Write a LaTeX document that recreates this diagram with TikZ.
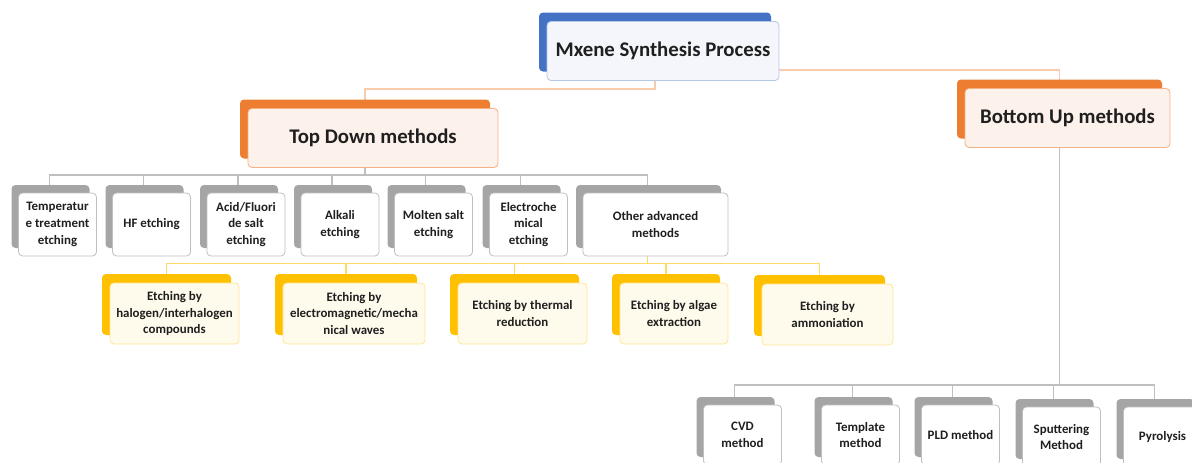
\documentclass[tikz,border=0pt]{standalone}
\usepackage{fontspec}
\setmainfont{Carlito}
\usetikzlibrary{shadows,backgrounds}

\definecolor{rootblue}{HTML}{4472C4}
\definecolor{rootfill}{HTML}{F4F6FB}
\definecolor{rootline}{HTML}{B4C7E7}
\definecolor{orshade}{HTML}{ED7D31}
\definecolor{orfill}{HTML}{FDF1EB}
\definecolor{orline}{HTML}{F4B183}
\definecolor{orlink}{HTML}{F8CBAD}
\definecolor{grshade}{HTML}{A5A5A5}
\definecolor{grline}{HTML}{BFBFBF}
\definecolor{yeshade}{HTML}{FFC000}
\definecolor{yefill}{HTML}{FFFBEC}
\definecolor{yeline}{HTML}{FFE699}
\definecolor{yelink}{HTML}{FFD966}

\tikzset{
  box/.style={draw, rounded corners=4pt, align=center, inner sep=2pt,
    line width=0.8pt, text=black!88,
    font=\bfseries\fontsize{12.9}{16.8}\selectfont},
  bigbox/.style={box, minimum height=59pt,
    font=\bfseries\fontsize{20.8}{24}\selectfont},
  rootbox/.style={bigbox, fill=rootfill, draw=rootline,
    general shadow={fill=rootblue, shadow xshift=-8pt, shadow yshift=9pt}},
  methodbox/.style={bigbox, fill=orfill, draw=orline,
    general shadow={fill=orshade, shadow xshift=-8pt, shadow yshift=9pt}},
  etchbox/.style={box, minimum width=78pt, minimum height=63pt, fill=white, draw=grline,
    general shadow={fill=grshade, shadow xshift=-7pt, shadow yshift=8pt}},
  extrabox/.style={box, minimum height=61pt, fill=yefill, draw=yeline,
    general shadow={fill=yeshade, shadow xshift=-8pt, shadow yshift=9pt}},
  link/.style={line width=1.2pt}
}

\begin{document}
\begin{tikzpicture}[x=1pt, y=-1pt]
  \useasboundingbox (0,0) rectangle (1192,463);

  % Main levels
  \node[rootbox, minimum width=232pt] (root) at (663,51) {Mxene Synthesis Process};
  \node[methodbox, minimum width=250pt] (topdown) at (373,138) {Top Down methods};
  \node[methodbox, minimum width=205pt] (bottomup) at (1067.5,118) {Bottom Up methods};

  % Top down methods
  \node[etchbox] (temp) at (57.5,224.5) {Temperatur\\e treatment\\etching};
  \node[etchbox] (hf) at (151.5,224.5) {HF etching};
  \node[etchbox] (acid) at (246,224.5) {Acid/Fluori\\de salt\\etching};
  \node[etchbox] (alkali) at (340,224.5) {Alkali\\etching};
  \node[etchbox] (molten) at (433.5,224.5) {Molten salt\\etching};
  \node[etchbox] (electro) at (528.5,224.5) {Electroche\\mical\\etching};
  \node[etchbox, minimum width=145pt] (other) at (655.5,224.5) {Other advanced\\methods};

  % Other advanced methods
  \node[extrabox, minimum width=129pt] (halogen) at (174.5,313.5) {Etching by\\halogen/interhalogen\\compounds};
  \node[extrabox, minimum width=142pt] (wave) at (354,313.5) {Etching by\\electromagnetic/mecha\\nical waves};
  \node[extrabox, minimum width=129pt] (thermal) at (522.5,313.5) {Etching by thermal\\reduction};
  \node[extrabox, minimum width=108pt] (algae) at (674,313.5) {Etching by algae\\extraction};
  \node[extrabox, minimum width=131pt] (ammonia) at (827.5,314.5) {Etching by\\ammoniation};

  % Bottom up methods
  \node[etchbox, minimum height=60pt] (cvd) at (742.5,435) {CVD\\method};
  \node[etchbox, minimum height=60pt] (template) at (860.5,435) {Template\\method};
  \node[etchbox, minimum height=60pt] (pld) at (960.5,435) {PLD method};
  \node[etchbox, minimum height=60pt] (sputter) at (1061.5,437) {Sputtering\\Method};
  \node[etchbox, minimum height=60pt] (pyro) at (1162.5,437) {Pyrolysis};

  % Connectors
  \begin{scope}[on background layer]
    \draw[link, draw=orlink] ([xshift=-8pt]root.south) -- ++(0,8) -| ([xshift=-8pt]topdown.north);
    \draw[link, draw=orlink] ([yshift=-19pt]root.east) -| ([xshift=-8pt]bottomup.north);
    \foreach \n in {temp,hf,acid,alkali,molten,electro,other}
      \draw[link, draw=grline] ([xshift=-8pt]topdown.south) -- ++(0,7) -| ([xshift=-8pt]\n.north);
    \foreach \n in {halogen,wave,thermal,algae,ammonia}
      \draw[link, draw=yelink] ([xshift=-8pt]other.south) -- ++(0,7) -| ([xshift=-8pt]\n.north);
    \foreach \n in {cvd,template,pld,sputter,pyro}
      \draw[link, draw=grline] ([xshift=-8pt]bottomup.south) -- ++(0,237) -| ([xshift=-8pt]\n.north);
  \end{scope}
\end{tikzpicture}
\end{document}
